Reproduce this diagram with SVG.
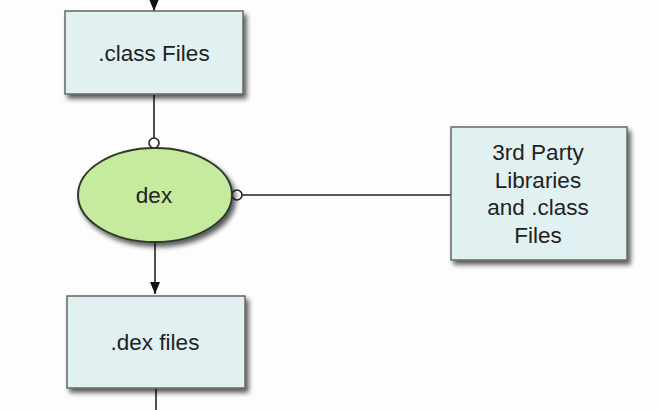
<svg xmlns="http://www.w3.org/2000/svg" width="660" height="410" viewBox="0 0 660 410">
<defs>
<filter id="sh" x="-20%" y="-20%" width="150%" height="150%">
<feGaussianBlur in="SourceAlpha" stdDeviation="2.5"/>
<feOffset dx="3" dy="4" result="o"/>
<feComponentTransfer><feFuncA type="linear" slope="0.65"/></feComponentTransfer>
<feMerge><feMergeNode/><feMergeNode in="SourceGraphic"/></feMerge>
</filter>
<marker id="arr" markerWidth="12" markerHeight="12" viewBox="0 0 12 12" refX="12" refY="6" orient="auto" markerUnits="userSpaceOnUse">
<path d="M0,1 L12,6 L0,11 Z" fill="#111"/>
</marker>
<marker id="ball" markerWidth="14" markerHeight="14" viewBox="0 0 14 14" refX="12" refY="7" orient="auto" markerUnits="userSpaceOnUse">
<circle cx="7" cy="7" r="5" fill="#fff" stroke="#222" stroke-width="1.6"/>
</marker>
</defs>
<style>
.box{fill:#e1f1f2;stroke:#666;stroke-width:1.5}
.ell{fill:#c6eb9f;stroke:#2f3a2a;stroke-width:2}
.t{font-family:"Liberation Sans",Arial,sans-serif;font-size:22.5px;fill:#222;text-anchor:middle}
.c{stroke:#222;stroke-width:1.6;fill:none}
</style>
<rect width="660" height="410" fill="#fdfdfd"/>
<g id="connectors">
<line class="c" x1="154" y1="-5" x2="154" y2="11" marker-end="url(#arr)"/>
<line class="c" x1="154" y1="95" x2="154" y2="148" marker-end="url(#ball)"/>
<line class="c" x1="451" y1="195" x2="232" y2="195" marker-end="url(#ball)"/>
<line class="c" x1="155" y1="243" x2="155" y2="294" marker-end="url(#arr)"/>
<line class="c" x1="156" y1="389" x2="156" y2="412"/>
</g>
<g id="class-files">
<rect class="box" x="65" y="11" width="178" height="83" filter="url(#sh)"/>
<text class="t" x="154" y="61">.class Files</text>
</g>
<g id="dex">
<ellipse class="ell" cx="155" cy="195" rx="77" ry="47" filter="url(#sh)"/>
<text class="t" x="154" y="203">dex</text>
</g>
<g id="third-party">
<rect class="box" x="451" y="127" width="176" height="133" filter="url(#sh)"/>
<text class="t" x="538" y="160">3rd Party</text>
<text class="t" x="538" y="188">Libraries</text>
<text class="t" x="538" y="215">and .class</text>
<text class="t" x="538" y="243">Files</text>
</g>
<g id="dex-files">
<rect class="box" x="67" y="296" width="178" height="92" filter="url(#sh)"/>
<text class="t" x="155" y="350">.dex files</text>
</g>
</svg>
